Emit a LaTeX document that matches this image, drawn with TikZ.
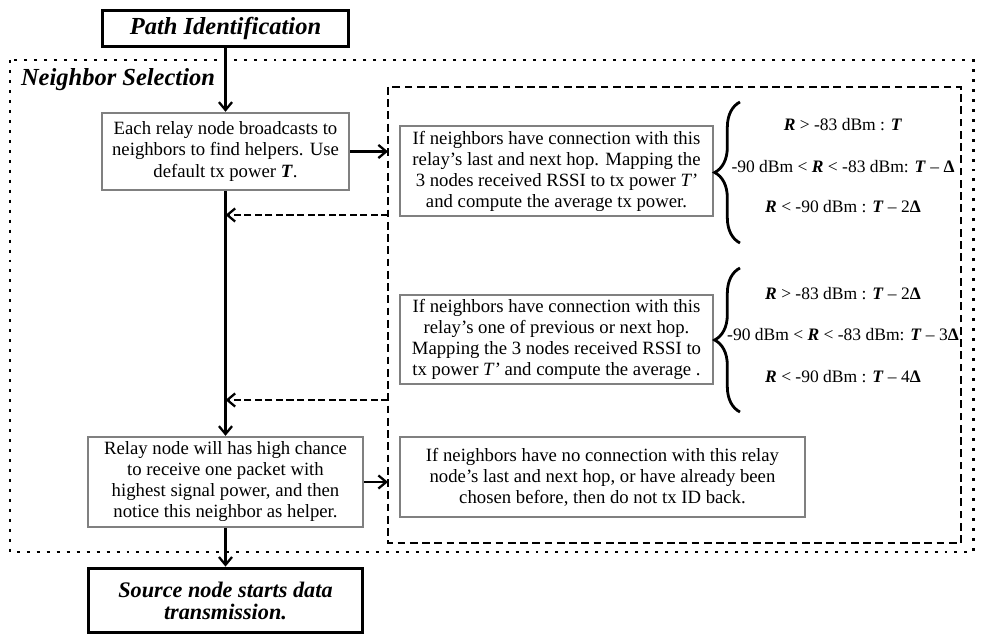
\documentclass[tikz,border=0pt]{standalone}
\usepackage{fontspec}
\setmainfont{Liberation Serif}
\usepackage{tikz}
\usetikzlibrary{positioning}
\usetikzlibrary{arrows.meta}
\usetikzlibrary{decorations.pathreplacing}
\begin{document}
\begin{tikzpicture}[
x=0.5714pt, y=-0.5714pt,
every node/.style = {font=\fontsize{10.7}{12}\selectfont, align=center},
headbox/.style = {draw, line width=1.7pt, font=\fontsize{14}{16}\selectfont\bfseries\itshape},
greybox/.style = {draw=black!50, line width=1.4pt, inner sep=2pt},
cond/.style = {font=\fontsize{10}{12}\selectfont},
flow/.style = {-{Straight Barb[length=4.5pt,width=7.5pt]}, line width=1.3pt},
back/.style = {-{Straight Barb[length=4.5pt,width=7.5pt]}, line width=1.3pt, dash pattern=on 4pt off 2pt},
curly/.style = {decorate, decoration={brace, amplitude=14.5pt}, line width=1.6pt}
]
\useasboundingbox (0,0) rectangle (983,644);
\draw[line width=1.7pt, dash pattern=on 1.7pt off 4pt] (10,60) rectangle (973,552);
\draw[line width=1.4pt, dash pattern=on 4.5pt off 2.5pt] (388,87) rectangle (961,543);
\coordinate (d) at (388,87);
\coordinate (r1) at (388,215);
\coordinate (r2) at (388,400);
\node (0) [font=\fontsize{14}{16}\selectfont\bfseries\itshape] at (118,80) {Neighbor Selection};
\node (1) [headbox, minimum width=141pt, minimum height=21pt] at (225.5,28.5) {Path Identification};
\node (2) [greybox, minimum width=141pt, minimum height=44pt] at (225.5,151.5) {Each relay node broadcasts to\\neighbors to find helpers. Use\\default tx power \textbf{\textit{T}}.};
\node (3) [greybox, minimum width=179pt, minimum height=51.4pt] at (556.5,171) {If neighbors have connection with this\\relay’s last and next hop. Mapping the\\3 nodes received RSSI to tx power \textit{T’}\\and compute the average tx power.};
\node (4) [greybox, minimum width=179pt, minimum height=51pt] at (556.5,339.5) {If neighbors have connection with this\\relay’s one of previous or next hop.\\Mapping the 3 nodes received RSSI to\\tx power \textit{T’} and compute the average .};
\node (5) [greybox, minimum width=157pt, minimum height=51.4pt] at (225.5,482) {Relay node will has high chance\\to receive one packet with\\highest signal power, and then\\notice this neighbor as helper.};
\node (6) [greybox, minimum width=231.4pt, minimum height=45.7pt] at (602.5,477) {If neighbors have no connection with this relay\\node’s last and next hop, or have already been\\chosen before, then do not tx ID back.};
\node (7) [headbox, font=\fontsize{12.7}{12.6}\selectfont\bfseries\itshape, minimum width=157pt, minimum height=37pt] at (225.5,600.5) {Source node starts data\\transmission.};
\node (8) [cond] at (843,125) {\textbf{\textit{R}} > -83 dBm : \textbf{\textit{T}}};
\node (9) [cond] at (843,167) {-90 dBm < \textbf{\textit{R}} < -83 dBm: \textbf{\textit{T}} – \textbf{Δ}};
\node (10) [cond] at (843,207) {\textbf{\textit{R}} < -90 dBm : \textbf{\textit{T}} – 2\textbf{Δ}};
\node (11) [cond] at (843,294) {\textbf{\textit{R}} > -83 dBm : \textbf{\textit{T}} – 2\textbf{Δ}};
\node (12) [cond] at (843,335) {-90 dBm < \textbf{\textit{R}} < -83 dBm: \textbf{\textit{T}} – 3\textbf{Δ}};
\node (13) [cond] at (843,377) {\textbf{\textit{R}} < -90 dBm : \textbf{\textit{T}} – 4\textbf{Δ}};
\draw[curly] (740,243) -- (740,102);
\draw[curly] (740,412) -- (740,268);
\draw[flow] (1) -- (2);
\draw[flow] (2.east) -- (2.east -| d);
\draw[back] (r1) -- (r1 -| 2.south);
\draw[back] (r2) -- (r2 -| 2.south);
\draw[flow] (2) -- (5);
\draw[flow] (5.east) -- (5.east -| d);
\draw[flow] (5.south) -- (5.south |- 7.north);
\end{tikzpicture}
\end{document}
